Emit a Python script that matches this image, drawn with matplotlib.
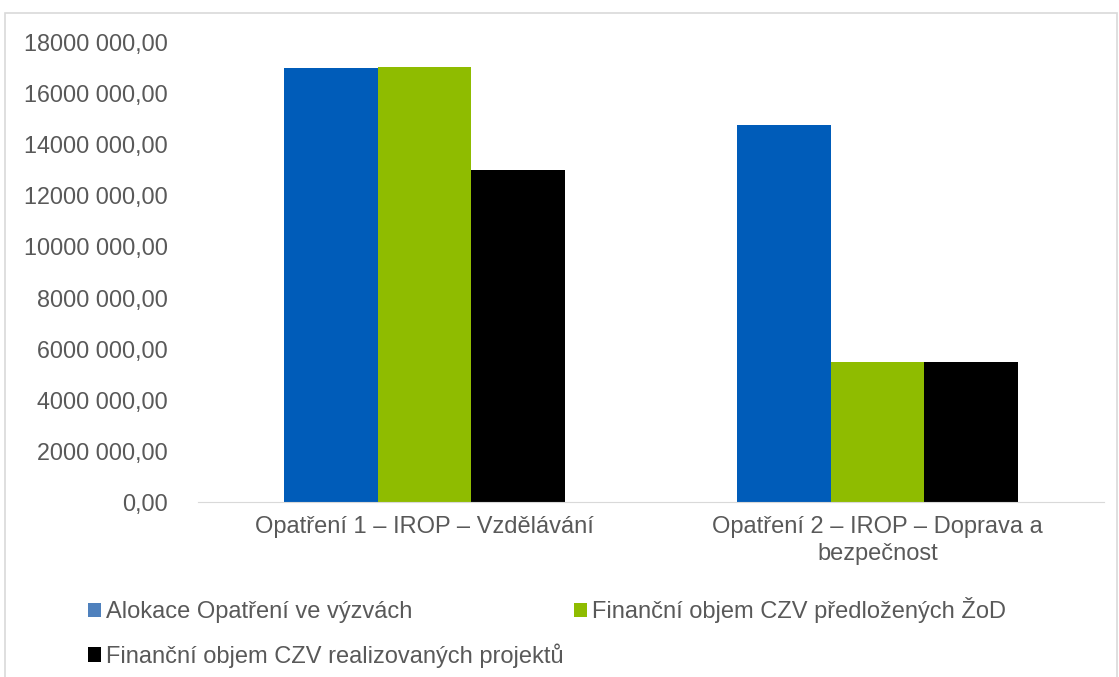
import numpy as np
import matplotlib.pyplot as plt
from matplotlib.patches import Rectangle, Patch
from matplotlib.ticker import FuncFormatter

plt.rcParams['font.family'] = ['Liberation Sans', 'DejaVu Sans']

categories = ["Opatření 1 – IROP – Vzdělávání", "Opatření 2 – IROP – Doprava a\nbezpečnost"]
series_names = ["Alokace Opatření ve výzvách",
                "Finanční objem CZV předložených ŽoD",
                "Finanční objem CZV realizovaných projektů"]
alokace = [17000000, 14750000]
predlozene = [17020000, 5470000]
realizovane = [12990000, 5480000]
colors = ["#005CB9", "#8FBC00", "#000000"]
legend_colors = ["#4F81BD", "#8FBC00", "#000000"]
yticks = np.arange(0, 18000001, 2000000)


def czech_fmt(v, pos):
    v = int(round(v))
    if v == 0:
        return "0,00"
    return f"{v // 1000} {v % 1000:03d},00"


fig = plt.figure(figsize=(11.19, 6.77), dpi=100)
ax = fig.add_axes([0.177, 0.2585, 0.8096, 0.6795])

x = np.arange(len(categories))
w = 0.207
for i, (vals, c, name) in enumerate(zip([alokace, predlozene, realizovane], colors, series_names)):
    ax.bar(x + (i - 1) * w, vals, width=w, color=c, label=name, linewidth=0)

ax.set_xlim(-0.5, 1.5)
ax.set_ylim(0, 18000000)
ax.set_yticks(yticks)
ax.yaxis.set_major_formatter(FuncFormatter(czech_fmt))
ax.set_xticks(x)
ax.set_xticklabels(categories, linespacing=1.3)
ax.tick_params(axis='both', length=0, labelcolor="#595959")
ax.tick_params(axis='y', pad=22, labelsize=16.8)
ax.tick_params(axis='x', pad=10, labelsize=17)
for s in ["top", "right", "left"]:
    ax.spines[s].set_visible(False)
ax.spines["bottom"].set_color("#d9d9d9")

# legend, row-major order with ncol=2
proxies = [Patch(color=c, linewidth=0) for c in legend_colors]
order = [0, 2, 1]
leg = fig.legend([proxies[i] for i in order], [series_names[i] for i in order],
                 ncol=2, loc="upper left", bbox_to_anchor=(0.079, 0.118),
                 frameon=False, fontsize=17, handlelength=0.55, handleheight=0.55,
                 handletextpad=0.2, columnspacing=0.45, labelspacing=0.85,
                 borderaxespad=0, borderpad=0)
for t in leg.get_texts():
    t.set_color("#595959")

# outer chart frame
fig.patches.append(Rectangle((5 / 1119, -0.05), 1112 / 1119, 1.05 - 13 / 677,
                             transform=fig.transFigure, fill=False,
                             edgecolor="#d9d9d9", linewidth=1.2))

fig.savefig("out.png", dpi=100)
